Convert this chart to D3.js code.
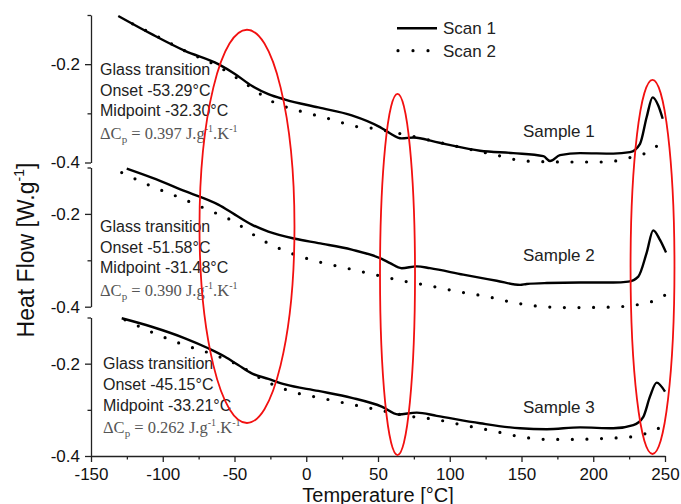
<!DOCTYPE html>
<html>
<head>
<meta charset="utf-8">
<script src="https://cdn.jsdelivr.net/npm/d3@7"></script>
<style>
  body { margin: 0; background: #fff; }
  svg { display: block; font-family: "Liberation Sans", Arial, sans-serif; }
</style>
</head>
<body>
<svg id="chart" width="681" height="504"></svg>
<script>
// ============================================================
//  Data — [temperature °C, heat flow W/g]
// ============================================================

const xTicks = [-150, -100, -50, 0, 50, 100, 150, 200, 250];
const xMinorTicks = [-125, -75, -25, 25, 75, 125, 175, 225];
const yTicks = [-0.4, -0.2];
const yMinorTicks = [-0.3, -0.1];

const sampleNames = ['Sample 1', 'Sample 2', 'Sample 3'];
const onsets = ['-53.29', '-51.58', '-45.15'];
const midpoints = ['-32.30', '-31.48', '-33.21'];
const deltaCp = ['0.397', '0.390', '0.262'];
const seriesNames = ['Scan 1', 'Scan 2'];

const sample1Scan1 = [[-131, -0.102], [-107.7, -0.139], [-84.5, -0.173], [-61.3, -0.200], [-49.7, -0.220],
  [-38, -0.244], [-26.4, -0.261], [-14.8, -0.272], [8.4, -0.288], [31.7, -0.304], [51.4, -0.328],
  [58, -0.340], [66.5, -0.351], [75, -0.349], [90, -0.358], [97.9, -0.363], [121.1, -0.376],
  [144.3, -0.381], [165.2, -0.387], [169.9, -0.397], [176.8, -0.385], [190.8, -0.381], [214, -0.382],
  [225.6, -0.379], [232.6, -0.362], [237.2, -0.308], [241.4, -0.2675], [245.3, -0.284], [248.4, -0.311]];
const sample1Scan2 = [[-121, -0.118], [-101.2, -0.1475], [-81.7, -0.177], [-62.4, -0.203], [-42.7, -0.239],
  [-23.7, -0.276], [-3.7, -0.296], [16.1, -0.311], [35.2, -0.327], [45.1, -0.330], [64.8, -0.341],
  [103, -0.366], [132.7, -0.385], [152.4, -0.397], [181.5, -0.399], [208.2, -0.399], [226.8, -0.389],
  [237.2, -0.380], [247.2, -0.360]];

const sample2Scan1 = [[-125.1, -0.1026], [-107.7, -0.122], [-84.5, -0.151], [-61.3, -0.180], [-49.7, -0.2015],
  [-38, -0.223], [-26.4, -0.238], [-7.8, -0.2535], [8.4, -0.263], [31.7, -0.277], [52.6, -0.297],
  [58.4, -0.306], [66.5, -0.317], [77, -0.313], [86.2, -0.317], [109.4, -0.331], [132.7, -0.344],
  [149, -0.353], [153.6, -0.351], [167.6, -0.349], [190.8, -0.348], [214, -0.348], [224.4, -0.346],
  [231.4, -0.335], [237.2, -0.284], [241.8, -0.2355], [246.5, -0.256], [250.7, -0.283]];
const sample2Scan2 = [[-128.6, -0.111], [-108.9, -0.139], [-89.6, -0.163], [-70.1, -0.189], [-50.8, -0.216],
  [-31, -0.256], [-11.3, -0.284], [8.4, -0.303], [28.2, -0.317], [47.9, -0.331], [66.5, -0.344],
  [86.2, -0.355], [105.9, -0.3675], [125.7, -0.378], [144.3, -0.391], [165.2, -0.400], [185, -0.402],
  [210.5, -0.401], [230.3, -0.396], [240.7, -0.389], [250, -0.375]];

const sample3Scan1 = [[-128.6, -0.1016], [-107.7, -0.120], [-84.5, -0.145], [-68.3, -0.1666], [-56.6, -0.185],
  [-47.4, -0.203], [-38, -0.221], [-26.4, -0.233], [-14.8, -0.245], [8.4, -0.259], [31.7, -0.274],
  [52.6, -0.293], [64.1, -0.310], [77, -0.306], [90.9, -0.313], [121.1, -0.329], [149, -0.340],
  [167.6, -0.342], [190.8, -0.338], [214, -0.340], [227.9, -0.333], [234.9, -0.315], [239.5, -0.2715],
  [244.2, -0.241], [250, -0.2607]];
const sample3Scan2 = [[-126.3, -0.105], [-105.9, -0.134], [-86.4, -0.158], [-67.1, -0.1775], [-47.4, -0.203],
  [-27.6, -0.239], [-8.3, -0.262], [11.2, -0.275], [31, -0.288], [50.2, -0.300], [70, -0.313],
  [88.5, -0.320], [109.4, -0.333], [129.2, -0.345], [149, -0.358], [167.6, -0.364], [187.3, -0.364],
  [208.2, -0.362], [227.9, -0.358], [238.4, -0.3495], [248.8, -0.335]];

// red highlight ellipses: centre temperature, half width (°C), top value in panel 1, bottom value in panel 3
const highlightCentres = [-41.3, 63.6, 241.3];
const highlightHalfWidths = [33.1, 12.2, 15.3];
const highlightTops = [-0.130, -0.2605, -0.232];
const highlightBottoms = [-0.3285, -0.398, -0.3957];

// ============================================================
//  Layout
// ============================================================

const svg = d3.select('#chart');
const x = d3.scaleLinear().domain([-150, 250]).range([91, 665]);

const panels = [
  { range: [162.5, 15], scan1: sample1Scan1, scan2: sample1Scan2, label: -0.3475, note: -0.2218, noteX: 100 },
  { range: [306.7, 167.5], scan1: sample2Scan1, scan2: sample2Scan2, label: -0.301, note: -0.2384, noteX: 100 },
  { range: [456, 317.5], scan1: sample3Scan1, scan2: sample3Scan2, label: -0.3075, note: -0.2121, noteX: 103 },
];
panels.forEach(p => { p.y = d3.scaleLinear().domain([-0.4, -0.1]).range(p.range); });

const fmt = d => d.toFixed(1);

function styleAxis(g) {
  g.select('.domain').attr('stroke', '#222').attr('stroke-width', 1.3);
  g.selectAll('.tick line').attr('stroke', '#222').attr('stroke-width', 1.3);
  g.selectAll('.tick text').attr('font-size', 17).attr('fill', '#111')
    .attr('font-family', '"Liberation Sans", Arial, sans-serif');
}

// ============================================================
//  Panels
// ============================================================

panels.forEach((p, i) => {
  const g = svg.append('g');

  g.append('g')
    .attr('transform', 'translate(91,0)')
    .call(d3.axisLeft(p.y).tickValues(yMinorTicks).tickSize(3.5).tickSizeOuter(0).tickFormat(''))
    .call(styleAxis);
  g.append('g')
    .attr('transform', 'translate(91,0)')
    .call(d3.axisLeft(p.y).tickValues(yTicks).tickSize(6).tickSizeOuter(0).tickPadding(5).tickFormat(fmt))
    .call(styleAxis)
    .call(a => a.select('.domain').remove());

  const line = d3.line()
    .x(d => x(d[0]))
    .y(d => p.y(d[1]))
    .curve(d3.curveMonotoneX);

  g.append('path')
    .datum(p.scan2)
    .attr('d', line)
    .attr('fill', 'none')
    .attr('stroke', '#000')
    .attr('stroke-width', 3.2)
    .attr('stroke-linecap', 'round')
    .attr('stroke-dasharray', '0 14.6');

  g.append('path')
    .datum(p.scan1)
    .attr('d', line)
    .attr('fill', 'none')
    .attr('stroke', '#000')
    .attr('stroke-width', 2.4);

  g.append('text')
    .attr('x', x(151))
    .attr('y', p.y(p.label))
    .attr('font-size', 17)
    .attr('fill', '#222')
    .text(sampleNames[i]);

  const ny = p.y(p.note);
  const lines = ['Glass transition', `Onset ${onsets[i]}°C`, `Midpoint ${midpoints[i]}°C`];
  lines.forEach((t, k) => {
    g.append('text')
      .attr('x', p.noteX)
      .attr('y', ny + k * 20.8)
      .attr('font-size', 16)
      .attr('fill', '#222')
      .text(t);
  });

  const cp = g.append('text')
    .attr('x', p.noteX)
    .attr('y', ny + 3 * 20.8 + 1.5)
    .attr('font-size', 16.5)
    .attr('fill', '#555')
    .attr('font-family', '"Liberation Serif", "Times New Roman", serif');
  cp.append('tspan').text('ΔC');
  cp.append('tspan').attr('font-size', 11).attr('dy', 4).text('p');
  cp.append('tspan').attr('dy', -4).text(` = ${deltaCp[i]} J.g`);
  cp.append('tspan').attr('font-size', 10).attr('dy', -7).text('-1');
  cp.append('tspan').attr('dy', 7).text('.K');
  cp.append('tspan').attr('font-size', 10).attr('dy', -7).text('-1');
});

// bottom temperature axis (shared)
const bottomY = panels[2].range[0];
svg.append('g')
  .attr('transform', `translate(0,${bottomY})`)
  .call(d3.axisBottom(x).tickValues(xMinorTicks).tickSize(3.5).tickSizeOuter(0).tickFormat(''))
  .call(styleAxis);
svg.append('g')
  .attr('transform', `translate(0,${bottomY})`)
  .call(d3.axisBottom(x).tickValues(xTicks).tickSize(6).tickSizeOuter(0).tickPadding(6).tickFormat(d => d.toFixed(0)))
  .call(styleAxis)
  .call(a => a.select('.domain').remove());

// axis titles
svg.append('text')
  .attr('x', 378)
  .attr('y', 501.5)
  .attr('text-anchor', 'middle')
  .attr('font-size', 20)
  .attr('fill', '#111')
  .text('Temperature [°C]');

const yTitle = svg.append('text')
  .attr('transform', 'translate(34,250) rotate(-90)')
  .attr('text-anchor', 'middle')
  .attr('font-size', 23)
  .attr('fill', '#111');
yTitle.append('tspan').text('Heat Flow [W.g');
yTitle.append('tspan').attr('font-size', 14).attr('dy', -10).text('-1');
yTitle.append('tspan').attr('dy', 10).text(']');

// legend
const legend = svg.append('g');
legend.append('line')
  .attr('x1', 397).attr('x2', 437).attr('y1', 28.3).attr('y2', 28.3)
  .attr('stroke', '#000').attr('stroke-width', 2.4);
legend.append('line')
  .attr('x1', 398).attr('x2', 429).attr('y1', 50.7).attr('y2', 50.7)
  .attr('stroke', '#000').attr('stroke-width', 3.2)
  .attr('stroke-linecap', 'round').attr('stroke-dasharray', '0 15');
seriesNames.forEach((s, i) => {
  legend.append('text')
    .attr('x', 443)
    .attr('y', 34 + i * 22.5)
    .attr('font-size', 17)
    .attr('fill', '#222')
    .text(s);
});

// red highlight ellipses spanning the three panels
highlightCentres.forEach((c, i) => {
  const top = panels[0].y(highlightTops[i]);
  const bottom = panels[2].y(highlightBottoms[i]);
  svg.append('ellipse')
    .attr('cx', x(c))
    .attr('cy', (top + bottom) / 2)
    .attr('rx', x(c + highlightHalfWidths[i]) - x(c))
    .attr('ry', (bottom - top) / 2)
    .attr('fill', 'none')
    .attr('stroke', '#f21010')
    .attr('stroke-width', 1.8);
});
</script>
</body>
</html>
